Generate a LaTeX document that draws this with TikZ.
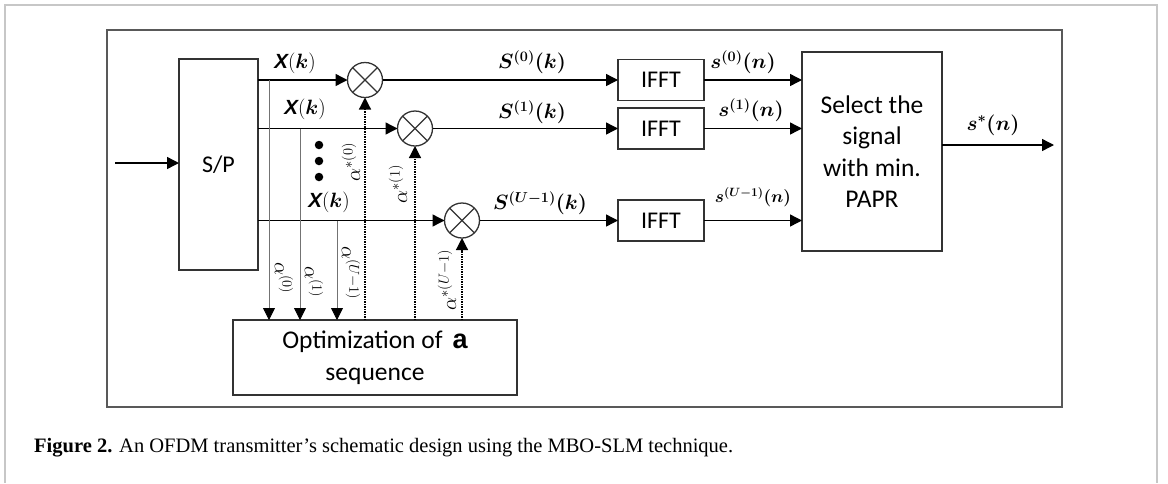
\documentclass[tikz,border=0pt]{standalone}
\usepackage{amsmath}
\usepackage{fontspec}
\usetikzlibrary{arrows.meta}
\newfontfamily\boxfont{Carlito}
\newfontfamily\arialf{Liberation Sans}
\newfontfamily\capfont{Liberation Serif}
\newcommand{\XofK}{{\arialf\bfseries\itshape X}$(\boldsymbol{k})$}
\begin{document}
\begin{tikzpicture}[x=1pt,y=-1pt,
  blk/.style={draw=black!80, line width=1.8pt, inner sep=0pt, outer sep=0pt, font=\boxfont\fontsize{24}{28}\selectfont},
  mult/.style={circle, draw=black!80, line width=1.3pt, minimum size=35pt, inner sep=0pt, outer sep=0pt},
  arr/.style={line width=1.4pt, -{Triangle[length=12pt,width=12pt]}},
  thinarr/.style={line width=0.8pt, draw=black!55, -{Triangle[length=12pt,width=12pt,color=black]}},
  dotarr/.style={line width=1.2pt, dash pattern=on 1.5pt off 1pt, -{Triangle[length=12pt,width=12pt]}},
  lbl/.style={inner sep=0pt, font=\fontsize{20.5}{22}\selectfont},
  alab/.style={inner sep=0pt, font=\fontsize{21}{22}\selectfont},
  dotn/.style={circle, fill=black, minimum size=8.5pt, inner sep=0pt},
]
\useasboundingbox (0,0) rectangle (1168,483);
\fill[white] (0,0) rectangle (1168,483);
\draw[black!22, line width=1.2pt] (5,483) -- (5,5) -- (1157,5) -- (1157,483);
\draw[black!65, line width=1.5pt] (107,30) rectangle (1062,407);

% blocks
\node[blk, minimum width=79pt, minimum height=211pt] (sp) at (218.5,164.5) {S/P};
\node[blk, minimum width=86pt, minimum height=41pt] (f1) at (661,80) {IFFT};
\node[blk, minimum width=86pt, minimum height=41pt] (f2) at (661,128.5) {IFFT};
\node[blk, minimum width=86pt, minimum height=41pt] (f3) at (661,220.5) {IFFT};
\node[blk, minimum width=140pt, minimum height=199pt, align=center, font=\boxfont\fontsize{25.5}{31.5}\selectfont] (sel) at (872,151.5) {Select the\\signal\\with min.\\PAPR};
\node[blk, minimum width=284pt, minimum height=75pt, align=center, font=\boxfont\fontsize{25.5}{32}\selectfont] (opt) at (375,357.5) {Optimization of\, {\arialf\bfseries\fontsize{27}{28}\selectfont a}\\sequence};

% multipliers
\node[mult] (m1) at (365,80) {};
\node[mult] (m2) at (415,128.5) {};
\node[mult] (m3) at (462,220.5) {};
\foreach \m in {m1,m2,m3}{
  \draw[line width=1.1pt, black!80] (\m.north east) -- (\m.south west) (\m.north west) -- (\m.south east);
}

% coordinates
\coordinate (in) at (115,163);
\coordinate (out) at (1054,145);
\coordinate (t0) at (269,80);
\coordinate (t1) at (300,128.5);
\coordinate (t2) at (337,220.5);

% connectors
\draw[arr] (in) -- (in -| sp.west);
\draw[arr] (sp.east |- m1) -- (m1);
\draw[arr] (sp.east |- m2) -- (m2);
\draw[arr] (sp.east |- m3) -- (m3);
\draw[arr] (m1) -- (f1);
\draw[arr] (m2) -- (f2);
\draw[arr] (m3) -- (f3);
\draw[arr] (f1) -- (f1 -| sel.west);
\draw[arr] (f2) -- (f2 -| sel.west);
\draw[arr] (f3) -- (f3 -| sel.west);
\draw[arr] (sel.east |- out) -- (out);
\draw[thinarr] (t0) -- (t0 |- opt.north);
\draw[thinarr] (t1) -- (t1 |- opt.north);
\draw[thinarr] (t2) -- (t2 |- opt.north);
\draw[dotarr] (m1 |- opt.north) -- (m1);
\draw[dotarr] (m2 |- opt.north) -- (m2);
\draw[dotarr] (m3 |- opt.north) -- (m3);

% dots
\node[dotn] (d1) at (319,145) {};
\node[dotn] (d2) at (319,161) {};
\node[dotn] (d3) at (319,177) {};

% labels
\node[lbl] (lx1) at (295,63) {\XofK};
\node[lbl] (lx2) at (305,109) {\XofK};
\node[lbl] (lx3) at (329,202) {\XofK};
\node[lbl] (ls0) at (532,62) {$\boldsymbol{S^{(0)}(k)}$};
\node[lbl] (ls1) at (532,112) {$\boldsymbol{S^{(1)}(k)}$};
\node[lbl] (ls2) at (540,203) {$\boldsymbol{S^{(U-1)}(k)}$};
\node[lbl] (ln0) at (743,62) {$\boldsymbol{s^{(0)}(n)}$};
\node[lbl] (ln1) at (751,110) {$\boldsymbol{s^{(1)}(n)}$};
\node[lbl, font=\fontsize{18.5}{22}\selectfont] (ln2) at (753,197) {$\boldsymbol{s^{(U-1)}(n)}$};
\node[lbl] (lout) at (993,125) {$\boldsymbol{s^{*}(n)}$};
\node[alab, rotate=90] (la0) at (351,162) {$\alpha^{*(0)}$};
\node[alab, rotate=90] (la1) at (398,184) {$\alpha^{*(1)}$};
\node[alab, rotate=90] (la2) at (447,280) {$\alpha^{*(U-1)}$};
\node[alab, rotate=-90] (lb0) at (284,278) {$\alpha^{(0)}$};
\node[alab, rotate=-90] (lb1) at (314,282) {$\alpha^{(1)}$};
\node[alab, rotate=-90] (lb2) at (351,273) {$\alpha^{(U-1)}$};

% caption
\node[anchor=west, inner sep=0pt, font=\capfont\fontsize{20.5}{22}\selectfont] (cap) at (34,448) {\textbf{Figure 2.} An OFDM transmitter’s schematic design using the MBO-SLM technique.};
\end{tikzpicture}
\end{document}
